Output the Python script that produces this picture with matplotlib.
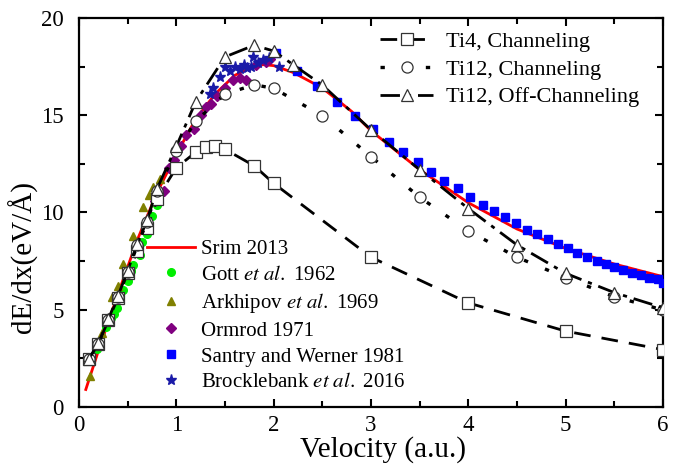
import matplotlib
matplotlib.use("Agg")
import matplotlib.pyplot as plt
from matplotlib.ticker import MultipleLocator

plt.rcParams["font.family"] = ["Liberation Serif", "DejaVu Serif"]
plt.rcParams["mathtext.fontset"] = "stix"

# --- data ---
srim_v = [0.07, 0.2, 0.4, 0.6, 0.8, 1.0, 1.2, 1.4, 1.6, 1.8, 1.9, 2.0, 2.2, 2.5,
          2.8, 3.0, 3.5, 4.0, 4.5, 5.0, 5.5, 6.0]
srim_y = [0.9, 2.9, 5.8, 8.6, 11.0, 13.0, 14.8, 16.1, 17.05, 17.55, 17.6, 17.55,
          17.2, 16.4, 15.2, 14.2, 12.2, 10.5, 9.15, 8.15, 7.35, 6.7]

gott_v = [0.12, 0.18, 0.22, 0.28, 0.33, 0.36, 0.39, 0.42, 0.45, 0.5, 0.53, 0.55,
          0.6, 0.63, 0.65, 0.7, 0.75, 0.8]
gott_y = [2.5, 3.0, 3.3, 4.1, 4.6, 4.8, 5.1, 5.8, 6.0, 6.5, 7.0, 7.3, 7.9, 7.8,
          8.5, 8.9, 9.8, 10.4]

ark_v = [0.11, 0.24, 0.34, 0.4, 0.45, 0.56, 0.66, 0.72, 0.76, 0.83]
ark_y = [1.6, 3.8, 5.65, 6.2, 7.35, 8.8, 10.3, 10.9, 11.3, 11.7]

orm_v = [0.78, 0.87, 0.92, 0.98, 1.05, 1.1, 1.18, 1.25, 1.3, 1.36, 1.42, 1.5,
         1.58, 1.65, 1.72, 1.82, 1.92, 1.96]
orm_y = [10.6, 11.1, 12.3, 12.7, 13.4, 14.0, 14.3, 15.0, 15.4, 15.6, 16.0, 16.4,
         16.8, 16.9, 16.8, 17.6, 17.75, 17.9]

san_v = [2.02, 2.24, 2.45, 2.65, 2.84, 3.02, 3.18, 3.33, 3.48, 3.62, 3.75, 3.89,
         4.02, 4.15, 4.26, 4.38, 4.49, 4.6, 4.71, 4.82, 4.92, 5.02, 5.12, 5.22,
         5.32, 5.41, 5.5, 5.59, 5.68, 5.77, 5.86, 5.95, 6.0]
san_y = [18.2, 17.3, 16.5, 15.7, 14.95, 14.3, 13.65, 13.1, 12.6, 12.1, 11.6,
         11.25, 10.8, 10.4, 10.1, 9.75, 9.45, 9.1, 8.88, 8.62, 8.36, 8.16, 7.93,
         7.73, 7.52, 7.35, 7.21, 7.04, 6.87, 6.79, 6.62, 6.57, 6.4]

brock_v = [1.35, 1.38, 1.45, 1.5, 1.55, 1.6, 1.65, 1.69, 1.73, 1.77, 1.79, 1.84,
           1.89, 1.95, 2.05]
brock_y = [16.1, 16.4, 16.95, 17.5, 17.3, 17.5, 17.4, 17.6, 17.45, 17.5, 18.0,
           17.7, 17.85, 17.95, 17.5]

ti4_v = [0.1, 0.2, 0.3, 0.4, 0.5, 0.6, 0.7, 0.8, 1.0, 1.2, 1.3, 1.4, 1.5, 1.8,
         2.0, 3.0, 4.0, 5.0, 6.0]
ti4_y = [2.45, 3.25, 4.45, 5.6, 6.9, 8.0, 9.2, 10.7, 12.3, 13.1, 13.35, 13.4,
         13.25, 12.4, 11.5, 7.7, 5.35, 3.9, 2.95]

ti12_v = [0.1, 0.2, 0.3, 0.4, 0.5, 0.6, 0.7, 0.8, 1.0, 1.2, 1.5, 1.8, 2.0, 2.5,
          3.0, 3.5, 4.0, 4.5, 5.0, 5.5, 6.0]
ti12_y = [2.45, 3.26, 4.47, 5.64, 6.96, 8.33, 9.53, 11.12, 13.16, 14.7, 16.08,
          16.57, 16.38, 14.98, 12.87, 10.78, 9.05, 7.7, 6.65, 5.67, 4.99]

off_v = [0.1, 0.2, 0.3, 0.4, 0.5, 0.6, 0.7, 0.8, 1.0, 1.2, 1.5, 1.8, 2.0, 2.2,
         2.5, 3.0, 3.5, 4.0, 4.5, 5.0, 5.5, 6.0]
off_y = [2.45, 3.3, 4.5, 5.7, 7.0, 8.4, 9.6, 11.2, 13.4, 15.7, 18.0, 18.6, 18.3,
         17.6, 16.55, 14.25, 12.2, 10.2, 8.33, 6.87, 5.88, 5.1]

fig = plt.figure(figsize=(6.85, 4.66), dpi=100)
ax = fig.add_axes([0.1153, 0.1266, 0.8527, 0.8348])

srim, = ax.plot(srim_v, srim_y, color="red", lw=2, zorder=2, label="Srim 2013")
gott, = ax.plot(gott_v, gott_y, "o", color="#00ee00", ms=5.5, zorder=3,
                label="Gott $\\it{et\\ al.}$ 1962")
ark, = ax.plot(ark_v, ark_y, "^", color="#808000", ms=6, zorder=3,
               label="Arkhipov $\\it{et\\ al.}$ 1969")
orm, = ax.plot(orm_v, orm_y, "D", color="#800080", ms=5.5, zorder=3,
               label="Ormrod 1971")
san, = ax.plot(san_v, san_y, "s", color="#0000ff", ms=5.5, zorder=3,
               label="Santry and Werner 1981")
brock, = ax.plot(brock_v, brock_y, "*", color="#1a1aa8", ms=8, zorder=3,
                 label="Brocklebank $\\it{et\\ al.}$ 2016")

mk = dict(mfc="white", mec="#333333", mew=0.9, ms=8, zorder=4, color="black")
ti4, = ax.plot(ti4_v, ti4_y, marker="s", lw=2, dashes=(6, 4), **mk,
               label="Ti4, Channeling")
ti12, = ax.plot(ti12_v, ti12_y, marker="o", lw=2.4, dashes=(1.3, 5.5),
                **mk, label="Ti12, Channeling")
off, = ax.plot(off_v, off_y, marker="^", lw=2, dashes=(7, 2.5, 1.5, 2.5), **mk,
               label="Ti12, Off-Channeling")

ax.set_xlim(0, 6)
ax.set_ylim(0, 20)
ax.xaxis.set_major_locator(MultipleLocator(1))
ax.xaxis.set_minor_locator(MultipleLocator(0.5))
ax.yaxis.set_major_locator(MultipleLocator(5))
ax.yaxis.set_minor_locator(MultipleLocator(2.5))
ax.tick_params(which="both", direction="in", top=True, right=True, width=1.5,
               labelsize=16.5)
ax.tick_params(which="major", length=6)
ax.tick_params(which="minor", length=4)
ax.tick_params(axis="x", which="major", pad=6)
ax.tick_params(axis="y", which="major", pad=11)
for s in ax.spines.values():
    s.set_linewidth(1.6)

ax.set_xlabel("Velocity (a.u.)", fontsize=21)
ax.set_ylabel("dE/dx(eV/Å)", fontsize=21)
ax.xaxis.set_label_coords(0.52, -0.075)
ax.yaxis.set_label_coords(-0.07, 0.385)

leg1 = ax.legend(handles=[ti4, ti12, off], loc="upper right",
                 bbox_to_anchor=(0.985, 1.005), frameon=False,
                 fontsize=16, handlelength=2.4, handletextpad=0.55,
                 labelspacing=0.32, borderaxespad=0.3)
ax.add_artist(leg1)
ax.legend(handles=[srim, gott, ark, orm, san, brock], loc="lower left",
          bbox_to_anchor=(0.092, 0.0), frameon=False, fontsize=15,
          handlelength=2.3, handletextpad=0.3, labelspacing=0.3,
          borderaxespad=0.3)

fig.savefig("out.png", dpi=100)
